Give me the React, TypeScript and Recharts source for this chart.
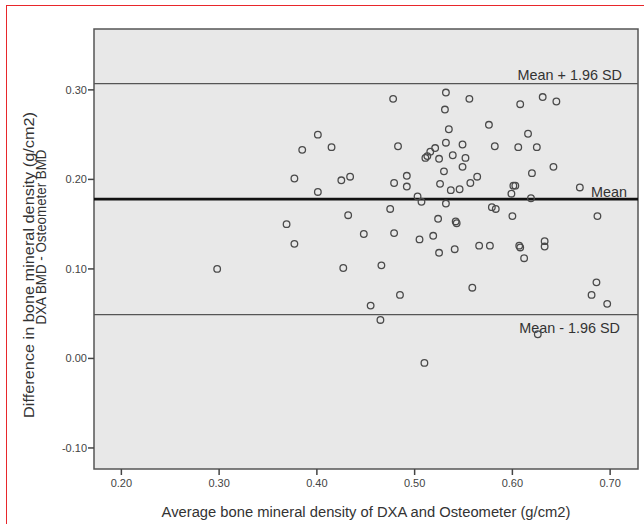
import { ScatterChart, Scatter, XAxis, YAxis, ReferenceArea, ReferenceLine } from "recharts";

// average BMD of the two methods (x) and the difference DXA - Osteometer (y)
const avgBmd = [
  0.401, 0.385, 0.415, 0.377, 0.401, 0.425, 0.434, 0.432, 0.478, 0.532,
  0.556, 0.531, 0.576, 0.535, 0.483, 0.532, 0.549, 0.582, 0.521, 0.516,
  0.511, 0.513, 0.525, 0.539, 0.552, 0.53, 0.549, 0.564, 0.557, 0.492,
  0.479, 0.492, 0.526, 0.537, 0.546, 0.503, 0.507, 0.532, 0.475, 0.579,
  0.583, 0.608, 0.631, 0.645, 0.616, 0.606, 0.625, 0.642, 0.62, 0.601,
  0.603, 0.599, 0.619, 0.669, 0.6, 0.687, 0.607, 0.608, 0.633, 0.633,
  0.612, 0.686, 0.681, 0.697, 0.626, 0.369, 0.377, 0.298, 0.427, 0.524,
  0.542, 0.543, 0.448, 0.479, 0.505, 0.519, 0.525, 0.541, 0.566, 0.577,
  0.466, 0.559, 0.485, 0.455, 0.465, 0.51,
];
const diffBmd = [
  0.25, 0.233, 0.236, 0.201, 0.186, 0.199, 0.203, 0.16, 0.29, 0.297,
  0.29, 0.278, 0.261, 0.256, 0.237, 0.241, 0.239, 0.237, 0.235, 0.231,
  0.224, 0.226, 0.223, 0.227, 0.224, 0.209, 0.214, 0.203, 0.196, 0.204,
  0.196, 0.192, 0.195, 0.188, 0.189, 0.181, 0.175, 0.173, 0.167, 0.169,
  0.167, 0.284, 0.292, 0.287, 0.251, 0.236, 0.236, 0.214, 0.207, 0.193,
  0.193, 0.184, 0.179, 0.191, 0.159, 0.159, 0.126, 0.124, 0.131, 0.125,
  0.112, 0.085, 0.071, 0.061, 0.027, 0.15, 0.128, 0.1, 0.101, 0.156,
  0.153, 0.151, 0.139, 0.14, 0.133, 0.137, 0.118, 0.122, 0.126, 0.126,
  0.104, 0.079, 0.071, 0.059, 0.043, -0.005,
];

const xTicks = [0.2, 0.3, 0.4, 0.5, 0.6, 0.7];
const yTicks = [-0.1, 0, 0.1, 0.2, 0.3];

const meanDiff = 0.178;
const upperLoa = 0.307;
const lowerLoa = 0.049;

const xDomain = [0.172, 0.7285];
const yDomain = [-0.1235, 0.368];

const points = avgBmd.map((x, i) => ({ x, y: diffBmd[i] }));

const FONT = '"Liberation Sans", Arial, sans-serif';

const OpenCircle = (props: any) => (
  <circle cx={props.cx} cy={props.cy} r={3.3} fill="none" stroke="#4a4a4a" strokeWidth={1.3} />
);

const lineLabel = (text: string, right: number, dy: number) => (props: any) => {
  const vb = props.viewBox || {};
  return (
    <text
      x={vb.x + vb.width - right}
      y={vb.y + dy}
      textAnchor="end"
      fontSize={14.4}
      fontFamily={FONT}
      fill="#333"
    >
      {text}
    </text>
  );
};

const YTitle = () => (
  <g fontFamily={FONT} fill="#333">
    <text
      x={28}
      y={265}
      fontSize={15}
      textAnchor="middle"
      dominantBaseline="central"
      textLength={306}
      lengthAdjust="spacingAndGlyphs"
      transform="rotate(-90 28 265)"
    >
      Difference in bone mineral density (g/cm2)
    </text>
    <text
      x={41}
      y={237}
      fontSize={14}
      textAnchor="middle"
      dominantBaseline="central"
      textLength={175}
      lengthAdjust="spacingAndGlyphs"
      transform="rotate(-90 41 237)"
    >
      DXA BMD - Osteometer BMD
    </text>
  </g>
);

export default function App() {
  return (
    <div style={{ position: "absolute", left: 0, top: 0, width: 644, height: 524, background: "#fff" }}>
      <div
        style={{
          position: "absolute",
          left: 6,
          top: 5,
          width: 638,
          height: 519,
          borderLeft: "1px solid #e8272b",
          borderTop: "1.5px solid #e8272b",
          boxSizing: "border-box",
        }}
      />
      <div style={{ position: "absolute", left: 0, top: 0 }}>
        <ScatterChart width={644} height={524} margin={{ top: 29, right: 6, bottom: 3, left: 34 }}>
          <XAxis
            type="number"
            dataKey="x"
            domain={xDomain}
            ticks={xTicks}
            allowDataOverflow
            tickFormatter={(v: number) => v.toFixed(2)}
            axisLine={false}
            tickLine={{ stroke: "#444", strokeWidth: 1.5 }}
            tickSize={6}
            tickMargin={4}
            height={52}
            tick={{ fontSize: 11, fill: "#444", fontFamily: FONT }}
            label={{
              value: "Average bone mineral density of DXA and Osteometer (g/cm2)",
              position: "insideBottom",
              offset: 4,
              fontSize: 14.75,
              fill: "#333",
              fontFamily: FONT,
            }}
          />
          <YAxis
            type="number"
            dataKey="y"
            domain={yDomain}
            ticks={yTicks}
            allowDataOverflow
            tickFormatter={(v: number) => v.toFixed(2)}
            axisLine={false}
            tickLine={{ stroke: "#444", strokeWidth: 1.5 }}
            tickSize={6}
            tickMargin={1}
            width={60}
            tick={{ fontSize: 11, fill: "#444", fontFamily: FONT }}
            label={{ content: () => <YTitle /> }}
          />
          <ReferenceArea
            x1={xDomain[0]}
            x2={xDomain[1]}
            y1={yDomain[0]}
            y2={yDomain[1]}
            fill="#e8e8e8"
            fillOpacity={1}
            stroke="#555"
            strokeWidth={1.5}
          />
          <ReferenceLine y={upperLoa} stroke="#555" strokeWidth={1.2} label={lineLabel("Mean + 1.96 SD", 16, -4)} />
          <ReferenceLine y={meanDiff} stroke="#111" strokeWidth={2.6} label={lineLabel("Mean", 11, -2.5)} />
          <ReferenceLine y={lowerLoa} stroke="#555" strokeWidth={1.2} label={lineLabel("Mean - 1.96 SD", 18, 18)} />
          <Scatter data={points} shape={OpenCircle} isAnimationActive={false} />
        </ScatterChart>
      </div>
    </div>
  );
}
